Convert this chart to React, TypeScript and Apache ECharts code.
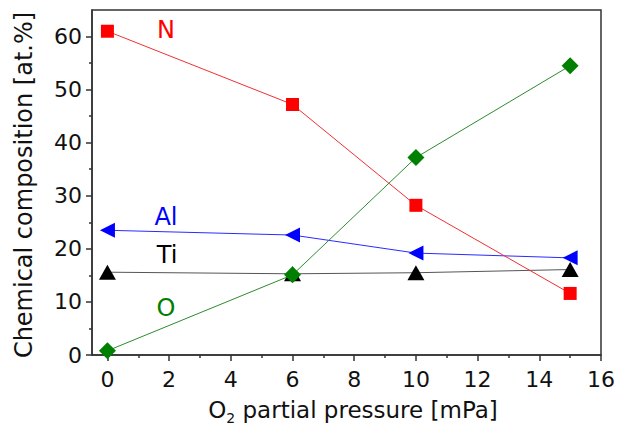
import { useEffect, useRef } from "react";
import * as echarts from "echarts";

// O2 partial pressure (mPa) for each deposited film
const pressure = [0, 6, 10, 15];
// Chemical composition in at.%
const nitrogen = [61.0, 47.2, 28.2, 11.6];
const oxygen = [0.8, 15.1, 37.2, 54.5];
const aluminium = [23.5, 22.6, 19.2, 18.3];
const titanium = [15.6, 15.3, 15.5, 16.1];

const xTicks = [0, 2, 4, 6, 8, 10, 12, 14, 16];
const xMinorTicks = [1, 3, 5, 7, 9, 11, 13, 15];
const yTicks = [0, 10, 20, 30, 40, 50, 60];
const yMinorTicks = [5, 15, 25, 35, 45, 55];

const FONT = "DejaVu Sans";
const AXIS_COLOR = "#333";

const pairs = (ys: number[]) => pressure.map((x, i) => [x, ys[i]]);

export default function App() {
  const ref = useRef<HTMLDivElement>(null);

  useEffect(() => {
    if (!ref.current) return;
    const chart = echarts.init(ref.current, null, { renderer: "svg" });

    const lineAxis = { show: true, onZero: false, lineStyle: { color: AXIS_COLOR, width: 1.5 } };
    const tickStyle = { color: AXIS_COLOR, width: 1.5 };

    chart.setOption({
      animation: false,
      backgroundColor: "#fff",
      grid: {
        left: 92,
        right: 15,
        top: 10,
        bottom: 72,
        show: true,
        borderColor: AXIS_COLOR,
        borderWidth: 1.5,
        backgroundColor: "#fff",
      },
      xAxis: [
        {
          type: "value",
          min: -0.5,
          max: 16,
          position: "bottom",
          axisLine: lineAxis,
          axisTick: { show: true, customValues: xTicks, length: 6, lineStyle: tickStyle },
          axisLabel: { customValues: xTicks, margin: 13, fontSize: 22, color: "#111", fontFamily: FONT },
          splitLine: { show: false },
        },
        {
          type: "value",
          min: -0.5,
          max: 16,
          position: "bottom",
          axisLine: { show: false, onZero: false },
          axisTick: { show: true, customValues: xMinorTicks, length: 3, lineStyle: tickStyle },
          axisLabel: { show: false },
          splitLine: { show: false },
        },
      ],
      yAxis: [
        {
          type: "value",
          min: 0,
          max: 65,
          position: "left",
          axisLine: lineAxis,
          axisTick: { show: true, customValues: yTicks, length: 6, lineStyle: tickStyle },
          axisLabel: { customValues: yTicks, margin: 10, fontSize: 22, color: "#111", fontFamily: FONT },
          splitLine: { show: false },
        },
        {
          type: "value",
          min: 0,
          max: 65,
          position: "left",
          axisLine: { show: false, onZero: false },
          axisTick: { show: true, customValues: yMinorTicks, length: 3, lineStyle: tickStyle },
          axisLabel: { show: false },
          splitLine: { show: false },
        },
      ],
      series: [
        {
          name: "Ti",
          type: "line",
          data: pairs(titanium),
          symbol: "triangle",
          symbolSize: [17, 15],
          lineStyle: { color: "#555", width: 1 },
          itemStyle: { color: "#000" },
          z: 2,
        },
        {
          name: "Al",
          type: "line",
          data: pairs(aluminium),
          symbol: "triangle",
          symbolRotate: 90,
          symbolSize: [15, 15],
          lineStyle: { color: "#2a2aff", width: 1 },
          itemStyle: { color: "#0000ff" },
          z: 3,
        },
        {
          name: "N",
          type: "line",
          data: pairs(nitrogen),
          symbol: "rect",
          symbolSize: 13,
          lineStyle: { color: "#f03030", width: 1 },
          itemStyle: { color: "#ff0000" },
          z: 4,
        },
        {
          name: "O",
          type: "line",
          data: pairs(oxygen),
          symbol: "diamond",
          symbolSize: 17,
          lineStyle: { color: "#2e8b2e", width: 1 },
          itemStyle: { color: "#008000" },
          z: 5,
        },
      ],
      graphic: [
        {
          type: "text",
          x: 166,
          y: 30,
          style: { text: "N", fill: "#ff0000", font: `24px ${FONT}`, textAlign: "center", textVerticalAlign: "middle" },
        },
        {
          type: "text",
          x: 166,
          y: 217,
          style: { text: "Al", fill: "#0000ff", font: `24px ${FONT}`, textAlign: "center", textVerticalAlign: "middle" },
        },
        {
          type: "text",
          x: 167,
          y: 255,
          style: { text: "Ti", fill: "#000", font: `24px ${FONT}`, textAlign: "center", textVerticalAlign: "middle" },
        },
        {
          type: "text",
          x: 166,
          y: 308,
          style: { text: "O", fill: "#008000", font: `24px ${FONT}`, textAlign: "center", textVerticalAlign: "middle" },
        },
        {
          type: "text",
          x: 24,
          y: 185,
          rotation: Math.PI / 2,
          style: {
            text: "Chemical composition [at.%]",
            fill: "#111",
            font: `24px ${FONT}`,
            textAlign: "center",
            textVerticalAlign: "middle",
          },
        },
        {
          type: "text",
          x: 353,
          y: 398,
          style: {
            text: "{a|O}{s|2}{a| partial pressure [mPa]}",
            textAlign: "center",
            textVerticalAlign: "top",
            rich: {
              a: { fontSize: 23, fontFamily: FONT, fill: "#111", lineHeight: 24, verticalAlign: "top" },
              s: { fontSize: 14, fontFamily: FONT, fill: "#111", lineHeight: 27, verticalAlign: "bottom" },
            },
          },
        },
      ],
    });

    return () => chart.dispose();
  }, []);

  return (
    <div
      ref={ref}
      style={{ position: "absolute", left: 0, top: 0, width: 618, height: 427 }}
    />
  );
}
